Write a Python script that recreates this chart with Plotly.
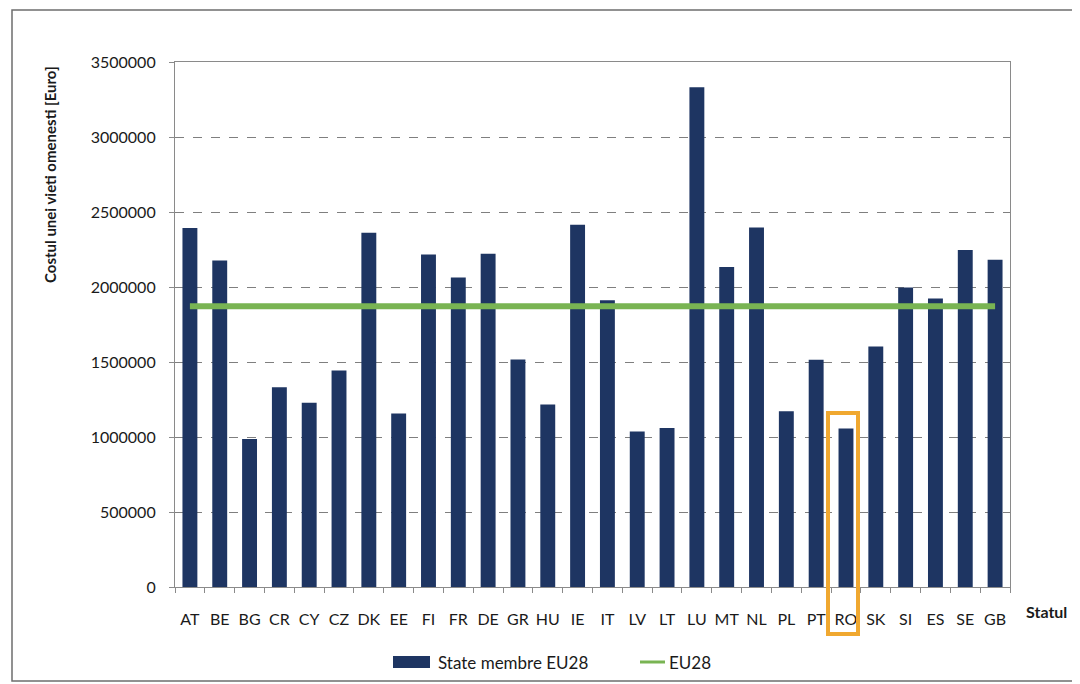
import plotly.graph_objects as go

countries = ["AT", "BE", "BG", "CR", "CY", "CZ", "DK", "EE", "FI", "FR", "DE", "GR", "HU", "IE",
             "IT", "LV", "LT", "LU", "MT", "NL", "PL", "PT", "RO", "SK", "SI", "ES", "SE", "GB"]
cost_values = [2393000, 2177000, 987000, 1331000, 1229000, 1444000, 2362000, 1157000, 2217000,
               2064000, 2222000, 1517000, 1217000, 2415000, 1911000, 1037000, 1060000, 3331000,
               2133000, 2397000, 1171000, 1515000, 1057000, 1604000, 1997000, 1924000, 2247000,
               2182000]
eu28_average = 1872000
y_ticks = [0, 500000, 1000000, 1500000, 2000000, 2500000, 3000000, 3500000]

# page offset of the plot div (body margin)
OFF = 8
FIG_W, FIG_H = 1072, 676
# target plot area in page pixels: x 175..1010, y 62..587
PX0, PX1, PY0, PY1 = 175, 1010, 62, 587
L, T = PX0 - OFF, PY0 - OFF
R = FIG_W - (PX1 - OFF)
B = FIG_H - (PY1 - OFF)
W, H = PX1 - PX0, PY1 - PY0


def px(x):
    return (x - PX0) / W


def py(y):
    return (PY1 - y) / H


FONT = "Lato, 'Open Sans', sans-serif"
BAR = "#1E3562"
GREEN = "#79B453"
TXT = "#1a1a1a"

fig = go.Figure()
fig.add_trace(go.Bar(x=countries, y=cost_values, name="State membre EU28",
                     marker=dict(color=BAR, line=dict(width=0))))
fig.add_trace(go.Scatter(x=countries, y=[eu28_average] * len(countries), name="EU28",
                         mode="lines", line=dict(color=GREEN, width=6)))

fig.update_layout(
    width=FIG_W, height=FIG_H,
    margin=dict(l=L, r=R, t=T, b=B, autoexpand=False),
    paper_bgcolor="white", plot_bgcolor="white",
    font=dict(family=FONT, size=16, color=TXT),
    bargap=0.5,
    showlegend=False,
    xaxis=dict(type="category", showline=True, linecolor="#8a8a8a", linewidth=1.2, mirror=True,
               ticks="outside", tickson="boundaries", ticklen=5, tickcolor="#8a8a8a",
               tickangle=0, ticklabelstandoff=18, tickfont=dict(size=16, color=TXT),
               showgrid=False),
    yaxis=dict(range=[0, 3500000], tickvals=y_ticks, ticktext=[str(v) for v in y_ticks],
               showline=True, linecolor="#8a8a8a", linewidth=1.2, mirror=True,
               ticks="outside", ticklen=5, tickcolor="#8a8a8a", ticklabelstandoff=10,
               tickfont=dict(size=16, color=TXT),
               showgrid=True, gridcolor="#7f7f7f", griddash="dash", gridwidth=1.3,
               zeroline=False),
    annotations=[
        dict(text="<b>Costul unei vieti omenesti [Euro]</b>", textangle=-90,
             x=px(50), y=py(175), xref="paper", yref="paper", showarrow=False,
             xanchor="center", yanchor="middle", font=dict(size=15, color=TXT)),
        dict(text="<b>Statul</b>", x=px(1046), y=py(611), xref="paper", yref="paper",
             showarrow=False, xanchor="center", yanchor="middle",
             font=dict(size=16, color=TXT)),
        dict(text="State membre EU28", x=px(436), y=py(662), xref="paper", yref="paper",
             showarrow=False, xanchor="left", yanchor="middle", font=dict(size=17, color=TXT)),
        dict(text="EU28", x=px(667), y=py(662), xref="paper", yref="paper",
             showarrow=False, xanchor="left", yanchor="middle", font=dict(size=17, color=TXT)),
    ],
    shapes=[
        dict(type="rect", xref="paper", yref="paper", x0=px(12), x1=px(1085), y0=py(681), y1=py(10),
             line=dict(color="#6e6e6e", width=1.5), fillcolor="rgba(0,0,0,0)", layer="below"),
        dict(type="rect", xref="paper", yref="paper", x0=px(828), x1=px(858), y0=py(634), y1=py(413),
             line=dict(color="#F0A830", width=4), fillcolor="rgba(0,0,0,0)"),
        dict(type="rect", xref="paper", yref="paper", x0=px(393), x1=px(430), y0=py(668), y1=py(656),
             line=dict(width=0), fillcolor=BAR),
        dict(type="line", xref="paper", yref="paper", x0=px(640), x1=px(665), y0=py(662), y1=py(662),
             line=dict(color=GREEN, width=3)),
    ],
)

fig.write_html("out.html")
